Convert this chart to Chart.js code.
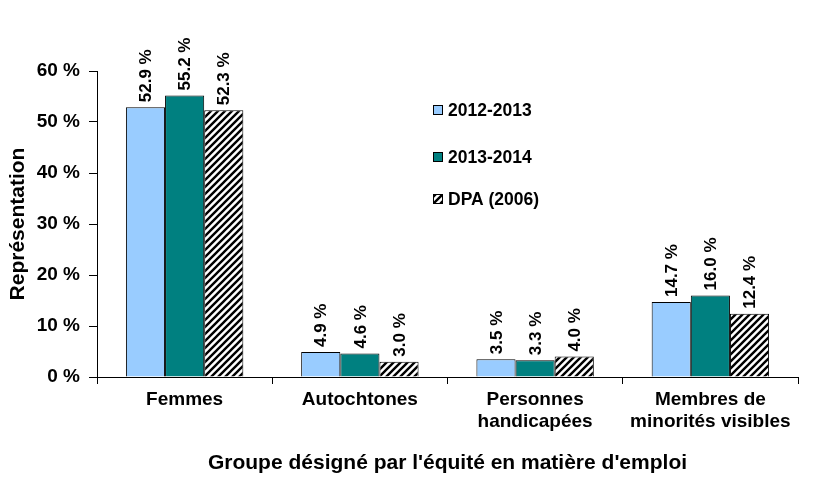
<!DOCTYPE html>
<html>
<head>
<meta charset="utf-8">
<script src="https://cdn.jsdelivr.net/npm/chart.js@4.4.1/dist/chart.umd.min.js"></script>
<style>
  html, body { margin: 0; padding: 0; background: #fff; }
  #wrap { width: 814px; height: 490px; }
</style>
</head>
<body>
<div id="wrap"><canvas id="chart" width="814" height="490"></canvas></div>
<script>
// ===== DATA =====
const categories = ['Femmes', 'Autochtones', ['Personnes', 'handicapées'], ['Membres de', 'minorités visibles']];
const seriesNames = ['2012-2013', '2013-2014', 'DPA (2006)'];
const values2012 = [52.9, 4.9, 3.5, 14.7];
const values2013 = [55.2, 4.6, 3.3, 16.0];
const valuesDPA = [52.3, 3.0, 4.0, 12.4];
const yTicks = [0, 10, 20, 30, 40, 50, 60];

const FONT = 'Liberation Sans, Arial, sans-serif';

// hatch pattern for DPA
function makeHatch() {
    const c = document.createElement('canvas');
    c.width = 7; c.height = 7;
    const g = c.getContext('2d');
    g.fillStyle = '#fff';
    g.fillRect(0, 0, 7, 7);
    g.strokeStyle = '#000';
    g.lineWidth = 2.4;
    g.beginPath();
    g.moveTo(-1, 8); g.lineTo(8, -1);
    g.moveTo(-4, 4); g.lineTo(4, -4);
    g.moveTo(3, 11); g.lineTo(11, 3);
    g.stroke();
    return g.createPattern(c, 'repeat');
}
const hatch = makeHatch();

// ===== PLUGINS =====
const valueLabels = {
    id: 'valueLabels',
    afterDatasetsDraw(chart) {
        const ctx = chart.ctx;
        ctx.save();
        ctx.font = 'bold 17px ' + FONT;
        ctx.fillStyle = '#000';
        ctx.textAlign = 'left';
        ctx.textBaseline = 'middle';
        chart.data.datasets.forEach((ds, i) => {
            chart.getDatasetMeta(i).data.forEach((bar, j) => {
                ctx.save();
                ctx.translate(bar.x, bar.y - 5);
                ctx.rotate(-Math.PI / 2);
                ctx.fillText(ds.data[j].toFixed(1) + ' %', 0, 1);
                ctx.restore();
            });
        });
        ctx.restore();
    }
};

const boxLegend = {
    id: 'boxLegend',
    afterDraw(chart) {
        const ctx = chart.ctx;
        const rows = [110, 157, 199];
        ctx.save();
        ctx.font = 'bold 17.5px ' + FONT;
        ctx.textBaseline = 'middle';
        chart.data.datasets.forEach((ds, i) => {
            const y = rows[i];
            ctx.fillStyle = ds.backgroundColor;
            ctx.fillRect(433, y - 5, 10, 10);
            ctx.strokeStyle = '#000';
            ctx.lineWidth = 1;
            ctx.strokeRect(433.5, y - 4.5, 9, 9);
            ctx.fillStyle = '#000';
            ctx.fillText(ds.label, 448, y + 1);
        });
        ctx.restore();
    }
};

// ===== CHART =====
new Chart(document.getElementById('chart'), {
    type: 'bar',
    data: {
        labels: categories,
        datasets: [
            { label: seriesNames[0], data: values2012, backgroundColor: '#99CCFF' },
            { label: seriesNames[1], data: values2013, backgroundColor: '#008080' },
            { label: seriesNames[2], data: valuesDPA, backgroundColor: hatch }
        ].map(d => Object.assign(d, {
            borderColor: '#000',
            borderWidth: 1,
            categoryPercentage: 0.67,
            barPercentage: 1
        }))
    },
    options: {
        responsive: false,
        animation: false,
        layout: { padding: { top: 71, right: 16, left: 0, bottom: 0 } },
        plugins: {
            legend: { display: false },
            tooltip: { enabled: false }
        },
        scales: {
            x: {
                grid: { display: true, drawOnChartArea: false, drawTicks: true, tickLength: 7, color: '#000' },
                border: { display: true, color: '#000' },
                ticks: { color: '#000', font: { family: FONT, size: 19, weight: 'bold' }, padding: 4, maxRotation: 0 },
                title: {
                    display: true,
                    text: "Groupe désigné par l'équité en matière d'emploi",
                    color: '#000',
                    font: { family: FONT, size: 21, weight: 'bold' },
                    padding: { top: 0, bottom: 14 }
                },
                afterFit(s) { s.height = 113; }
            },
            y: {
                min: 0,
                max: 60,
                afterBuildTicks(s) { s.ticks = yTicks.map(v => ({ value: v })); },
                grid: { display: true, drawOnChartArea: false, drawTicks: true, tickLength: 8, color: '#000' },
                border: { display: true, color: '#000' },
                ticks: {
                    color: '#000',
                    font: { family: FONT, size: 19, weight: 'bold' },
                    padding: 9,
                    callback: v => v + ' %'
                },
                title: {
                    display: true,
                    text: 'Représentation',
                    color: '#000',
                    font: { family: FONT, size: 21, weight: 'bold' },
                    padding: { top: 6, bottom: 8 }
                },
                afterFit(s) { s.width = 97; }
            }
        }
    },
    plugins: [valueLabels, boxLegend]
});
</script>
</body>
</html>
